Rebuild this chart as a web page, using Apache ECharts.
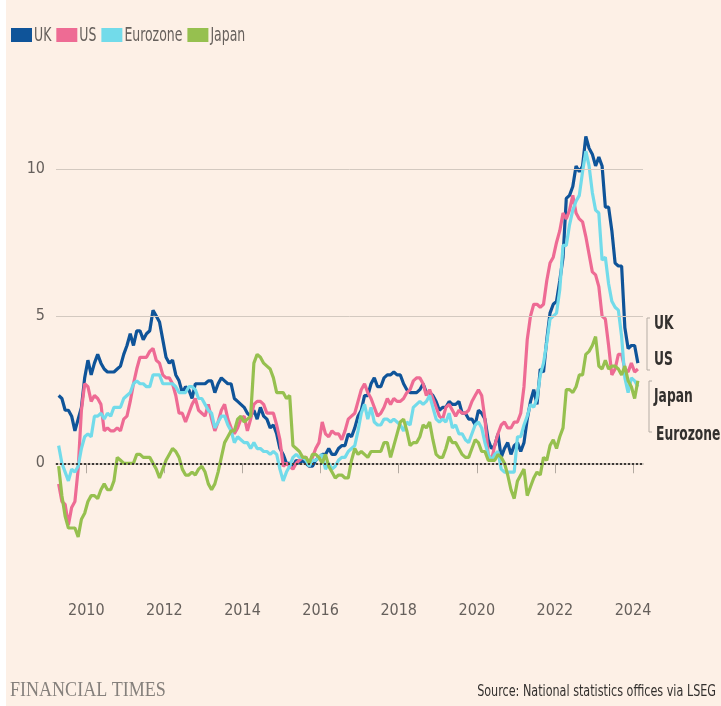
<!DOCTYPE html>
<html>
<head>
<meta charset="utf-8">
<script src="https://cdn.jsdelivr.net/npm/echarts@6/dist/echarts.min.js"></script>
<style>
  html, body { margin: 0; padding: 0; background: #fff; }
  #chart { width: 721px; height: 706px; }
</style>
</head>
<body>
<div id="chart"></div>
<script>
// monthly, Apr 2009 - Feb 2024 (annual % change in consumer prices)
const startYear = 2009, startMonth = 4, monthCount = 179;
const months = [];
for (let i = 0; i < monthCount; i++) {
  const m = startMonth - 1 + i;
  months.push((startYear + Math.floor(m / 12)) + '-' + String(m % 12 + 1).padStart(2, '0'));
}

const ukValues = [
  2.3, 2.2, 1.8, 1.8, 1.6, 1.1, 1.5, 1.9, 2.9,
  3.5, 3.0, 3.4, 3.7, 3.4, 3.2, 3.1, 3.1, 3.1, 3.2, 3.3, 3.7,
  4.0, 4.4, 4.0, 4.5, 4.5, 4.2, 4.4, 4.5, 5.2, 5.0, 4.8, 4.2,
  3.6, 3.4, 3.5, 3.0, 2.8, 2.4, 2.6, 2.5, 2.2, 2.7, 2.7, 2.7,
  2.7, 2.8, 2.8, 2.4, 2.7, 2.9, 2.8, 2.7, 2.7, 2.2, 2.1, 2.0,
  1.9, 1.7, 1.6, 1.8, 1.5, 1.9, 1.6, 1.5, 1.2, 1.3, 1.0, 0.5,
  0.3, 0.0, 0.0, -0.1, 0.1, 0.0, 0.1, 0.0, -0.1, -0.1, 0.1, 0.2,
  0.3, 0.3, 0.5, 0.3, 0.3, 0.5, 0.6, 0.6, 1.0, 0.9, 1.2, 1.6,
  1.8, 2.3, 2.3, 2.7, 2.9, 2.6, 2.6, 2.9, 3.0, 3.0, 3.1, 3.0,
  3.0, 2.7, 2.5, 2.4, 2.4, 2.4, 2.5, 2.7, 2.4, 2.4, 2.3, 2.1,
  1.8, 1.9, 1.9, 2.1, 2.0, 2.0, 2.1, 1.7, 1.7, 1.5, 1.5, 1.3,
  1.8, 1.7, 1.5, 0.8, 0.5, 0.6, 1.0, 0.2, 0.5, 0.7, 0.3, 0.6,
  0.7, 0.4, 0.7, 1.5, 2.1, 2.5, 2.0, 3.2, 3.1, 4.2, 5.1, 5.4,
  5.5, 6.2, 7.0, 9.0, 9.1, 9.4, 10.1, 9.9, 10.1, 11.1, 10.7, 10.5,
  10.1, 10.4, 10.1, 8.7, 8.7, 7.9, 6.8, 6.7, 6.7, 4.6, 3.9, 4.0,
  4.0, 3.4
];

const usValues = [
  -0.7, -1.3, -1.4, -2.1, -1.5, -1.3, -0.2, 1.8, 2.7,
  2.6, 2.1, 2.3, 2.2, 2.0, 1.1, 1.2, 1.1, 1.1, 1.2, 1.1, 1.5,
  1.6, 2.1, 2.7, 3.2, 3.6, 3.6, 3.6, 3.8, 3.9, 3.5, 3.4, 3.0,
  2.9, 2.9, 2.7, 2.3, 1.7, 1.7, 1.4, 1.7, 2.0, 2.2, 1.8, 1.7,
  1.6, 2.0, 1.5, 1.1, 1.4, 1.8, 2.0, 1.5, 1.2, 1.0, 1.2, 1.5,
  1.6, 1.1, 1.5, 2.0, 2.1, 2.1, 2.0, 1.7, 1.7, 1.7, 1.3, 0.8,
  -0.1, 0.0, -0.1, -0.2, 0.0, 0.1, 0.2, 0.2, 0.0, 0.2, 0.5, 0.7,
  1.4, 1.0, 0.9, 1.1, 1.0, 1.0, 0.8, 1.1, 1.5, 1.6, 1.7, 2.1,
  2.5, 2.7, 2.4, 2.2, 1.9, 1.6, 1.7, 1.9, 2.2, 2.0, 2.2, 2.1,
  2.1, 2.2, 2.4, 2.5, 2.8, 2.9, 2.9, 2.7, 2.3, 2.5, 2.2, 1.9,
  1.6, 1.5, 1.9, 2.0, 1.8, 1.6, 1.8, 1.7, 1.7, 1.8, 2.1, 2.3,
  2.5, 2.3, 1.5, 0.3, 0.1, 0.6, 1.0, 1.3, 1.4, 1.2, 1.2, 1.4,
  1.4, 1.7, 2.6, 4.2, 5.0, 5.4, 5.4, 5.3, 5.4, 6.2, 6.8, 7.0,
  7.5, 7.9, 8.5, 8.3, 8.6, 9.1, 8.5, 8.3, 8.2, 7.7, 7.1, 6.5,
  6.4, 6.0, 5.0, 4.9, 4.0, 3.0, 3.2, 3.7, 3.7, 3.2, 3.1, 3.4,
  3.1, 3.2
];

const eurozoneValues = [
  0.6, 0.0, -0.3, -0.6, -0.2, -0.3, -0.1, 0.5, 0.9,
  1.0, 0.9, 1.6, 1.6, 1.7, 1.5, 1.7, 1.6, 1.9, 1.9, 1.9, 2.2,
  2.3, 2.4, 2.7, 2.8, 2.7, 2.7, 2.6, 2.6, 3.0, 3.0, 3.0, 2.7,
  2.7, 2.7, 2.7, 2.6, 2.4, 2.4, 2.4, 2.6, 2.6, 2.5, 2.2, 2.2,
  2.0, 1.8, 1.7, 1.2, 1.4, 1.6, 1.6, 1.3, 1.1, 0.7, 0.9, 0.8,
  0.7, 0.7, 0.5, 0.7, 0.5, 0.5, 0.4, 0.4, 0.3, 0.4, 0.3, -0.2,
  -0.6, -0.3, -0.1, 0.2, 0.3, 0.2, 0.2, 0.1, -0.1, 0.1, 0.1, 0.2,
  0.3, -0.2, 0.0, -0.2, -0.1, 0.1, 0.2, 0.2, 0.4, 0.5, 0.6, 1.1,
  1.7, 2.0, 1.5, 1.9, 1.4, 1.3, 1.3, 1.5, 1.5, 1.4, 1.5, 1.4,
  1.3, 1.1, 1.4, 1.3, 1.9, 2.0, 2.1, 2.0, 2.1, 2.3, 1.9, 1.5,
  1.4, 1.5, 1.4, 1.7, 1.2, 1.3, 1.0, 1.0, 0.8, 0.7, 1.0, 1.3,
  1.4, 1.2, 0.7, 0.3, 0.1, 0.3, 0.4, -0.2, -0.3, -0.3, -0.3, -0.3,
  0.9, 0.9, 1.3, 1.6, 2.0, 1.9, 2.2, 3.0, 3.4, 4.1, 4.9, 5.0,
  5.1, 5.9, 7.4, 7.4, 8.1, 8.6, 8.9, 9.1, 9.9, 10.6, 10.1, 9.2,
  8.6, 8.5, 6.9, 7.0, 6.1, 5.5, 5.3, 5.2, 4.3, 2.9, 2.4, 2.9,
  2.8, 2.6
];

const japanValues = [
  -0.1, -1.1, -1.8, -2.2, -2.2, -2.2, -2.5, -1.9, -1.7,
  -1.3, -1.1, -1.1, -1.2, -0.9, -0.7, -0.9, -0.9, -0.6, 0.2, 0.1, 0.0,
  0.0, 0.0, 0.0, 0.3, 0.3, 0.2, 0.2, 0.2, 0.0, -0.2, -0.5, -0.2,
  0.1, 0.3, 0.5, 0.4, 0.2, -0.2, -0.4, -0.4, -0.3, -0.4, -0.2, -0.1,
  -0.3, -0.7, -0.9, -0.7, -0.3, 0.2, 0.7, 0.9, 1.1, 1.1, 1.5, 1.6,
  1.4, 1.5, 1.6, 3.4, 3.7, 3.6, 3.4, 3.3, 3.2, 2.9, 2.4, 2.4,
  2.4, 2.2, 2.3, 0.6, 0.5, 0.4, 0.2, 0.2, 0.0, 0.3, 0.3, 0.2,
  0.0, 0.3, -0.1, -0.3, -0.5, -0.4, -0.4, -0.5, -0.5, 0.1, 0.5, 0.3,
  0.4, 0.3, 0.2, 0.4, 0.4, 0.4, 0.4, 0.7, 0.7, 0.2, 0.6, 1.0,
  1.4, 1.5, 1.1, 0.6, 0.7, 0.7, 0.9, 1.3, 1.2, 1.4, 0.8, 0.3,
  0.2, 0.2, 0.5, 0.9, 0.7, 0.7, 0.5, 0.3, 0.2, 0.2, 0.5, 0.8,
  0.7, 0.4, 0.4, 0.1, 0.1, 0.1, 0.3, 0.2, 0.0, -0.4, -0.9, -1.2,
  -0.6, -0.4, -0.2, -1.1, -0.8, -0.5, -0.3, -0.4, 0.2, 0.1, 0.6, 0.8,
  0.5, 0.9, 1.2, 2.5, 2.5, 2.4, 2.6, 3.0, 3.0, 3.7, 3.8, 4.0,
  4.3, 3.3, 3.2, 3.5, 3.2, 3.3, 3.3, 3.2, 3.0, 3.3, 2.8, 2.6,
  2.2, 2.8
];

const seriesNames = ['UK', 'US', 'Eurozone', 'Japan'];
const seriesColors = ['#0f5499', '#ee6b94', '#72dbea', '#96c04f'];
const yearTicks = [2010, 2012, 2014, 2016, 2018, 2020, 2022, 2024];
const yTicks = [0, 5, 10];
const gridValues = [5, 10];

const FONT = '"Liberation Sans Narrow", "DejaVu Sans Condensed", sans-serif';
const NARROW = 0.73; // squeeze for condensed look

// month -> decimal year, placed mid-month
function decYear(m) {
  const p = m.split('-');
  return +p[0] + (+p[1] - 0.5) / 12;
}
function pairs(values) {
  return months.map((m, i) => [decYear(m), values[i]]);
}

function lineSeries(name, color, values) {
  return {
    name: name,
    type: 'line',
    data: pairs(values),
    symbol: 'none',
    lineStyle: { color: color, width: 3.2 },
    itemStyle: { color: color },
    animation: false
  };
}

// legend drawn as graphic so text can be condensed
const measureCtx = document.createElement('canvas').getContext('2d');
measureCtx.font = '19px ' + FONT;
const legendGraphics = [];
let lx = 11;
seriesNames.forEach((name, i) => {
  legendGraphics.push({ type: 'rect', x: lx, y: 28, shape: { width: 21, height: 14 }, style: { fill: seriesColors[i] } });
  legendGraphics.push({ type: 'text', x: lx + 23, y: 36, scaleX: NARROW,
    style: { text: name, fontFamily: FONT, fontSize: 19, fill: '#66605c', verticalAlign: 'middle' } });
  lx += 23 + measureCtx.measureText(name).width * NARROW + 5;
});

function endLabel(text, x, y) {
  return { type: 'text', x: x, y: y, scaleX: 0.72,
    style: { text: text, fontFamily: FONT, fontSize: 19, fontWeight: 'bold', fill: '#33302e', verticalAlign: 'middle' } };
}

const chart = echarts.init(document.getElementById('chart'));

const option = {
  backgroundColor: '#fdf0e6',
  animation: false,
  grid: { left: 56, right: 78, top: 110, bottom: 125 },
  xAxis: {
    type: 'value',
    min: 2009.224,
    max: 2024.256,
    axisLine: { show: true, lineStyle: { color: '#cdc4bb', width: 2 } },
    axisTick: { show: true, length: 10, customValues: yearTicks, lineStyle: { color: '#b3aaa1', width: 1 } },
    axisLabel: {
      customValues: yearTicks,
      formatter: (v) => String(Math.round(v)),
      fontFamily: FONT, fontSize: 16, color: '#66605c', margin: 22
    },
    splitLine: { show: false }
  },
  yAxis: {
    type: 'value',
    min: -4,
    max: 12,
    axisLine: { show: false },
    axisTick: { show: false },
    axisLabel: { customValues: yTicks, fontFamily: FONT, fontSize: 16, color: '#66605c', margin: 11 },
    splitLine: { show: false }
  },
  series: [
    {
      name: 'grid',
      type: 'line',
      data: [],
      silent: true,
      markLine: {
        silent: true,
        symbol: ['none', 'none'],
        label: { show: false },
        animation: false,
        data: gridValues.map((v) => ({ yAxis: v, lineStyle: { color: '#d3c9c0', width: 1, type: 'solid' } }))
          .concat([{ yAxis: 0, lineStyle: { color: '#3d3936', width: 2, type: 'dotted' } }])
      }
    },
    lineSeries(seriesNames[0], seriesColors[0], ukValues),
    lineSeries(seriesNames[1], seriesColors[1], usValues),
    lineSeries(seriesNames[2], seriesColors[2], eurozoneValues),
    lineSeries(seriesNames[3], seriesColors[3], japanValues)
  ],
  graphic: [
    { type: 'rect', left: 0, top: 0, shape: { width: 6, height: 706 }, style: { fill: '#ffffff' }, silent: true },
    // end labels with brackets
    { type: 'polyline', shape: { points: [[650, 318], [647, 318], [647, 370], [650, 370]] }, style: { stroke: '#b5ada5', lineWidth: 1, fill: null } },
    { type: 'polyline', shape: { points: [[652, 381], [649, 381], [649, 432], [652, 432]] }, style: { stroke: '#b5ada5', lineWidth: 1, fill: null } },
    endLabel('UK', 654, 324),
    endLabel('US', 654, 360),
    endLabel('Japan', 654, 397),
    endLabel('Eurozone', 656, 435),
    // footer
    { type: 'text', x: 10, y: 690, scaleX: 0.82, style: { text: 'FINANCIAL TIMES', fontFamily: '"Liberation Serif", serif', fontSize: 22, fill: '#85807c', verticalAlign: 'middle' } },
    { type: 'text', x: 716, y: 692, scaleX: 0.83, style: { text: 'Source: National statistics offices via LSEG', fontFamily: FONT, fontSize: 15, fill: '#33302e', align: 'right', verticalAlign: 'middle' } }
  ].concat(legendGraphics)
};

chart.setOption(option);
</script>
</body>
</html>
